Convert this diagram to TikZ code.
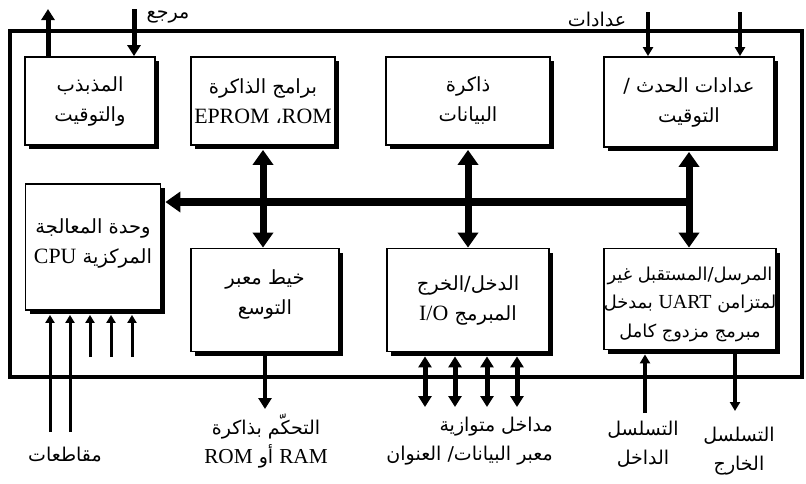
\documentclass[tikz,border=0pt]{standalone}
\usepackage{fontspec}
\setmainfont{Liberation Serif}
\newfontfamily\arabicfont[Script=Arabic]{DejaVu Sans}
\newfontfamily\latinfont[Scale=1.12]{Liberation Serif}
\TeXXeTstate=1
\usetikzlibrary{arrows.meta,shadows}
\newcommand\AR[1]{\beginR#1\endR}
\newcommand\LT[1]{\beginL{\latinfont #1}\endL}
\tikzset{
  blk/.style={draw, line width=1.8pt, fill=white, inner sep=0pt, align=center,
    font=\arabicfont\fontsize{19.5}{30}\selectfont,
    drop shadow={shadow xshift=4pt, shadow yshift=-4pt, fill=black, opacity=1}},
  btxt/.style={inner sep=0pt, align=center, font=\arabicfont\fontsize{19.5}{30}\selectfont},
  lbl/.style={inner sep=0pt, align=center, font=\arabicfont\fontsize{19}{29}\selectfont},
  bigtip/.tip={Triangle[width=20pt,length=15pt]},
  midtip/.tip={Triangle[width=13pt,length=11pt]},
  smalltip/.tip={Triangle[width=9pt,length=8pt]},
  bus/.style={line width=8pt, -bigtip},
  vbus/.style={line width=7pt, bigtip-bigtip},
  oscup/.style={line width=5pt, -midtip},
  refdown/.style={line width=5pt, -midtip},
  cnt/.style={line width=3.5pt, -{Triangle[width=10pt,length=9pt]}},
  intr/.style={line width=3pt, -smalltip},
  expout/.style={line width=4.5pt, -midtip},
  iob/.style={line width=5pt, midtip-midtip},
  ser/.style={line width=3.2pt, -{Triangle[width=10pt,length=9pt]}},
}
\begin{document}
\begin{tikzpicture}[x=1pt,y=-1pt]
\useasboundingbox (0,0) rectangle (806,483);
\node[draw, line width=4pt, inner sep=0pt, minimum width=792pt, minimum height=346pt] (frame) at (406,204) {};

\node[blk, minimum width=130pt, minimum height=88pt] (osc) at (90,101) {\AR{المذبذب}\\\AR{والتوقيت}};
\node[blk, minimum width=144pt, minimum height=88pt] (prog) at (263,101) {\AR{برامج الذاكرة}\\\AR{\LT{ROM}، \LT{EPROM}}};
\node[blk, minimum width=164pt, minimum height=88pt] (data) at (468,101) {\AR{ذاكرة}\\\AR{البيانات}};
\node[blk, minimum width=170pt, minimum height=90pt] (evt) at (689,102) {\AR{عدادات الحدث /}\\\AR{التوقيت}};
\node[blk, minimum width=135pt, minimum height=126pt] (cpu) at (93,247) {};
\node[btxt] (cpuT) at (93,243) {\AR{وحدة المعالجة}\\\AR{المركزية \LT{CPU}}};
\node[blk, minimum width=148pt, minimum height=103pt] (exp) at (265,300) {};
\node[btxt] (expT) at (265,294) {\AR{خيط معبر}\\\AR{التوسع}};
\node[blk, minimum width=162pt, minimum height=103pt] (io) at (468,300) {\AR{الدخل/الخرج}\\\AR{المبرمج \LT{I/O}}};
\node[blk, minimum width=172pt, minimum height=101pt] (uart) at (690,299) {};
\node[btxt, font=\arabicfont\fontsize{17.8}{28.5}\selectfont] (uartT) at (690,304) {\AR{المرسل/المستقبل غير}\\\AR{لمتزامن \LT{UART} بمدخل}\\\AR{مبرمج مزدوج كامل}};

% internal bus
\coordinate (busR) at (689,202);
\coordinate (cpuR) at ([xshift=4pt]cpu.east);
\draw[bus] (busR) -- (cpuR |- busR);
\coordinate (progB) at ([yshift=-4pt]prog.south);
\coordinate (dataB) at ([yshift=-4pt]data.south);
\coordinate (evtB) at ([yshift=-4pt]evt.south);
\draw[vbus] (progB) -- (progB |- exp.north);
\draw[vbus] (dataB) -- (dataB |- io.north);
\draw[vbus] (evtB -| busR) -- (uart.north -| busR);

% top
\coordinate (oscOut) at (48,9);
\draw[oscup] (osc.north -| oscOut) -- (oscOut);
\coordinate (refIn) at (134,9);
\draw[refdown] (refIn) -- (osc.north -| refIn);
\node[lbl] (refL) at (168,17) {\AR{مرجع}};
\coordinate (c1) at (648,12);
\coordinate (c2) at (740,12);
\draw[cnt] (c1) -- (evt.north -| c1);
\draw[cnt] (c2) -- (evt.north -| c2);
\node[lbl] (cntL) at (597,19) {\AR{عدادات}};

% interrupts
\coordinate (cpuB) at ([yshift=-4pt]cpu.south);
\foreach \x/\y in {50/432,70/432,90/357,111/357,132/357}{
  \coordinate (i\x) at (\x,\y);
  \draw[intr] (i\x) -- (cpuB -| i\x);
}
\node[lbl] (intL) at (65,455) {\AR{مقاطعات}};

% expansion
\coordinate (expB) at ([yshift=-4pt]exp.south);
\coordinate (ramC) at (265,409);
\draw[expout] (expB -| ramC) -- (ramC);
\node[lbl] (ramL) at (266,441) {\AR{التحكّم بذاكرة}\\\AR{\LT{RAM} أو \LT{ROM}}};

% parallel io
\coordinate (ioB) at ([yshift=-4pt]io.south);
\foreach \x in {425,455,487,517}{
  \coordinate (p\x) at (\x,407);
  \draw[iob] (ioB -| p\x) -- (p\x);
}
\node[lbl, align=right, anchor=east] (parL) at (553,441) {\AR{مداخل متوازية}\\\AR{معبر البيانات/ العنوان}};

% serial
\coordinate (uartB) at ([yshift=-4pt]uart.south);
\coordinate (sin) at (645,413);
\draw[ser] (sin) -- (uartB -| sin);
\coordinate (sout) at (735,411);
\draw[ser] (uartB -| sout) -- (sout);
\node[lbl] (sinL) at (643,444) {\AR{التسلسل}\\\AR{الداخل}};
\node[lbl] (soutL) at (739,451) {\AR{التسلسل}\\\AR{الخارج}};
\end{tikzpicture}
\end{document}
